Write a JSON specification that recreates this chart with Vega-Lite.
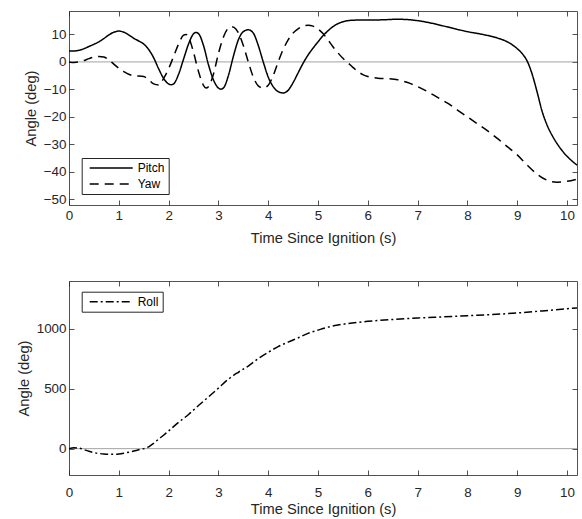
{
 "$schema": "https://vega.github.io/schema/vega-lite/v6.json",
 "background": "white",
 "padding": {"left": 16, "top": 10, "right": 5, "bottom": 0},
 "spacing": 34,
 "datasets": {
  "att": [
   {"t":0,"v":4.0,"series":"Pitch"},{"t":0.1,"v":4.0,"series":"Pitch"},{"t":0.2,"v":4.2,"series":"Pitch"},{"t":0.3,"v":4.8,"series":"Pitch"},{"t":0.4,"v":5.6,"series":"Pitch"},{"t":0.5,"v":6.4,"series":"Pitch"},{"t":0.6,"v":7.3,"series":"Pitch"},{"t":0.7,"v":8.5,"series":"Pitch"},{"t":0.8,"v":9.8,"series":"Pitch"},{"t":0.9,"v":10.8,"series":"Pitch"},{"t":1.0,"v":11.2,"series":"Pitch"},{"t":1.1,"v":10.8,"series":"Pitch"},{"t":1.2,"v":9.8,"series":"Pitch"},{"t":1.3,"v":8.6,"series":"Pitch"},{"t":1.4,"v":7.6,"series":"Pitch"},{"t":1.5,"v":6.5,"series":"Pitch"},{"t":1.6,"v":4.5,"series":"Pitch"},{"t":1.7,"v":1.5,"series":"Pitch"},{"t":1.8,"v":-2.5,"series":"Pitch"},{"t":1.9,"v":-6,"series":"Pitch"},{"t":2.0,"v":-8,"series":"Pitch"},{"t":2.05,"v":-8.3,"series":"Pitch"},{"t":2.1,"v":-8,"series":"Pitch"},{"t":2.2,"v":-4.5,"series":"Pitch"},{"t":2.3,"v":1,"series":"Pitch"},{"t":2.4,"v":6.5,"series":"Pitch"},{"t":2.5,"v":10.2,"series":"Pitch"},{"t":2.55,"v":10.7,"series":"Pitch"},{"t":2.6,"v":10.3,"series":"Pitch"},{"t":2.7,"v":6,"series":"Pitch"},{"t":2.8,"v":-1,"series":"Pitch"},{"t":2.9,"v":-6.5,"series":"Pitch"},{"t":3.0,"v":-9.5,"series":"Pitch"},{"t":3.05,"v":-9.9,"series":"Pitch"},{"t":3.1,"v":-9.5,"series":"Pitch"},{"t":3.2,"v":-5,"series":"Pitch"},{"t":3.3,"v":2,"series":"Pitch"},{"t":3.4,"v":8,"series":"Pitch"},{"t":3.5,"v":11,"series":"Pitch"},{"t":3.6,"v":11.7,"series":"Pitch"},{"t":3.7,"v":10.5,"series":"Pitch"},{"t":3.8,"v":6,"series":"Pitch"},{"t":3.9,"v":0,"series":"Pitch"},{"t":4.0,"v":-5.5,"series":"Pitch"},{"t":4.1,"v":-9,"series":"Pitch"},{"t":4.2,"v":-10.8,"series":"Pitch"},{"t":4.3,"v":-11.3,"series":"Pitch"},{"t":4.4,"v":-10.3,"series":"Pitch"},{"t":4.5,"v":-7.5,"series":"Pitch"},{"t":4.6,"v":-4,"series":"Pitch"},{"t":4.7,"v":-0.5,"series":"Pitch"},{"t":4.8,"v":2.5,"series":"Pitch"},{"t":4.9,"v":5,"series":"Pitch"},{"t":5.0,"v":7.3,"series":"Pitch"},{"t":5.1,"v":9.5,"series":"Pitch"},{"t":5.2,"v":11.3,"series":"Pitch"},{"t":5.3,"v":12.8,"series":"Pitch"},{"t":5.4,"v":13.9,"series":"Pitch"},{"t":5.5,"v":14.6,"series":"Pitch"},{"t":5.6,"v":15.0,"series":"Pitch"},{"t":5.8,"v":15.2,"series":"Pitch"},{"t":6.0,"v":15.2,"series":"Pitch"},{"t":6.3,"v":15.3,"series":"Pitch"},{"t":6.6,"v":15.5,"series":"Pitch"},{"t":7.0,"v":15.0,"series":"Pitch"},{"t":7.3,"v":14.0,"series":"Pitch"},{"t":7.6,"v":12.7,"series":"Pitch"},{"t":8.0,"v":11.0,"series":"Pitch"},{"t":8.3,"v":10.0,"series":"Pitch"},{"t":8.6,"v":8.7,"series":"Pitch"},{"t":8.8,"v":7.3,"series":"Pitch"},{"t":9.0,"v":4.8,"series":"Pitch"},{"t":9.1,"v":3,"series":"Pitch"},{"t":9.2,"v":0.3,"series":"Pitch"},{"t":9.3,"v":-4.5,"series":"Pitch"},{"t":9.4,"v":-11,"series":"Pitch"},{"t":9.5,"v":-18,"series":"Pitch"},{"t":9.6,"v":-23,"series":"Pitch"},{"t":9.7,"v":-26.7,"series":"Pitch"},{"t":9.8,"v":-29.7,"series":"Pitch"},{"t":9.9,"v":-32.2,"series":"Pitch"},{"t":10.0,"v":-34.3,"series":"Pitch"},{"t":10.1,"v":-36,"series":"Pitch"},{"t":10.2,"v":-37.5,"series":"Pitch"},
   {"t":0,"v":0,"series":"Yaw"},{"t":0.1,"v":-0.2,"series":"Yaw"},{"t":0.2,"v":0,"series":"Yaw"},{"t":0.3,"v":0.5,"series":"Yaw"},{"t":0.4,"v":1.2,"series":"Yaw"},{"t":0.5,"v":1.8,"series":"Yaw"},{"t":0.6,"v":2,"series":"Yaw"},{"t":0.7,"v":1.8,"series":"Yaw"},{"t":0.8,"v":0.8,"series":"Yaw"},{"t":0.9,"v":-0.8,"series":"Yaw"},{"t":1.0,"v":-2.3,"series":"Yaw"},{"t":1.1,"v":-3.5,"series":"Yaw"},{"t":1.2,"v":-4.5,"series":"Yaw"},{"t":1.3,"v":-5,"series":"Yaw"},{"t":1.5,"v":-5.3,"series":"Yaw"},{"t":1.6,"v":-6.5,"series":"Yaw"},{"t":1.7,"v":-8,"series":"Yaw"},{"t":1.8,"v":-8.4,"series":"Yaw"},{"t":1.85,"v":-7.5,"series":"Yaw"},{"t":1.9,"v":-6,"series":"Yaw"},{"t":2.0,"v":-2.5,"series":"Yaw"},{"t":2.1,"v":2,"series":"Yaw"},{"t":2.2,"v":6.5,"series":"Yaw"},{"t":2.3,"v":9.7,"series":"Yaw"},{"t":2.35,"v":10,"series":"Yaw"},{"t":2.4,"v":9,"series":"Yaw"},{"t":2.5,"v":3.5,"series":"Yaw"},{"t":2.6,"v":-3.5,"series":"Yaw"},{"t":2.7,"v":-8.5,"series":"Yaw"},{"t":2.75,"v":-9.5,"series":"Yaw"},{"t":2.8,"v":-9,"series":"Yaw"},{"t":2.9,"v":-4.5,"series":"Yaw"},{"t":3.0,"v":3,"series":"Yaw"},{"t":3.1,"v":9,"series":"Yaw"},{"t":3.2,"v":12.3,"series":"Yaw"},{"t":3.27,"v":12.8,"series":"Yaw"},{"t":3.35,"v":12,"series":"Yaw"},{"t":3.5,"v":6,"series":"Yaw"},{"t":3.6,"v":0,"series":"Yaw"},{"t":3.7,"v":-5.5,"series":"Yaw"},{"t":3.8,"v":-8.7,"series":"Yaw"},{"t":3.9,"v":-9.5,"series":"Yaw"},{"t":4.0,"v":-8.5,"series":"Yaw"},{"t":4.1,"v":-5,"series":"Yaw"},{"t":4.2,"v":0,"series":"Yaw"},{"t":4.3,"v":4.5,"series":"Yaw"},{"t":4.4,"v":8,"series":"Yaw"},{"t":4.5,"v":10.5,"series":"Yaw"},{"t":4.6,"v":12,"series":"Yaw"},{"t":4.7,"v":13,"series":"Yaw"},{"t":4.8,"v":13.3,"series":"Yaw"},{"t":4.9,"v":13,"series":"Yaw"},{"t":5.0,"v":12,"series":"Yaw"},{"t":5.1,"v":10.3,"series":"Yaw"},{"t":5.2,"v":8,"series":"Yaw"},{"t":5.3,"v":5.5,"series":"Yaw"},{"t":5.4,"v":3.3,"series":"Yaw"},{"t":5.5,"v":1.3,"series":"Yaw"},{"t":5.6,"v":-0.3,"series":"Yaw"},{"t":5.7,"v":-2,"series":"Yaw"},{"t":5.8,"v":-3.5,"series":"Yaw"},{"t":5.9,"v":-4.6,"series":"Yaw"},{"t":6.0,"v":-5.3,"series":"Yaw"},{"t":6.2,"v":-5.9,"series":"Yaw"},{"t":6.4,"v":-6.1,"series":"Yaw"},{"t":6.6,"v":-6.5,"series":"Yaw"},{"t":6.8,"v":-7.5,"series":"Yaw"},{"t":7.0,"v":-9,"series":"Yaw"},{"t":7.2,"v":-10.8,"series":"Yaw"},{"t":7.4,"v":-12.9,"series":"Yaw"},{"t":7.6,"v":-15,"series":"Yaw"},{"t":7.8,"v":-17.5,"series":"Yaw"},{"t":8.0,"v":-20,"series":"Yaw"},{"t":8.2,"v":-22.5,"series":"Yaw"},{"t":8.4,"v":-25,"series":"Yaw"},{"t":8.6,"v":-27.8,"series":"Yaw"},{"t":8.8,"v":-30.8,"series":"Yaw"},{"t":9.0,"v":-33.8,"series":"Yaw"},{"t":9.2,"v":-37.5,"series":"Yaw"},{"t":9.4,"v":-40.8,"series":"Yaw"},{"t":9.6,"v":-43,"series":"Yaw"},{"t":9.8,"v":-43.7,"series":"Yaw"},{"t":10.0,"v":-43.4,"series":"Yaw"},{"t":10.2,"v":-42.6,"series":"Yaw"}
  ],
  "roll": [
   {"t":0,"v":0,"series":"Roll"},{"t":0.1,"v":7,"series":"Roll"},{"t":0.2,"v":4,"series":"Roll"},{"t":0.3,"v":-8,"series":"Roll"},{"t":0.4,"v":-22,"series":"Roll"},{"t":0.5,"v":-33,"series":"Roll"},{"t":0.6,"v":-40,"series":"Roll"},{"t":0.7,"v":-45,"series":"Roll"},{"t":0.8,"v":-47,"series":"Roll"},{"t":0.9,"v":-47,"series":"Roll"},{"t":1.0,"v":-44,"series":"Roll"},{"t":1.1,"v":-38,"series":"Roll"},{"t":1.2,"v":-30,"series":"Roll"},{"t":1.3,"v":-20,"series":"Roll"},{"t":1.4,"v":-10,"series":"Roll"},{"t":1.5,"v":0,"series":"Roll"},{"t":1.6,"v":15,"series":"Roll"},{"t":1.7,"v":45,"series":"Roll"},{"t":1.8,"v":80,"series":"Roll"},{"t":1.9,"v":112,"series":"Roll"},{"t":2.0,"v":148,"series":"Roll"},{"t":2.2,"v":220,"series":"Roll"},{"t":2.4,"v":285,"series":"Roll"},{"t":2.6,"v":360,"series":"Roll"},{"t":2.8,"v":432,"series":"Roll"},{"t":3.0,"v":505,"series":"Roll"},{"t":3.2,"v":580,"series":"Roll"},{"t":3.4,"v":638,"series":"Roll"},{"t":3.6,"v":690,"series":"Roll"},{"t":3.8,"v":752,"series":"Roll"},{"t":4.0,"v":805,"series":"Roll"},{"t":4.2,"v":852,"series":"Roll"},{"t":4.4,"v":890,"series":"Roll"},{"t":4.6,"v":925,"series":"Roll"},{"t":4.8,"v":963,"series":"Roll"},{"t":5.0,"v":990,"series":"Roll"},{"t":5.2,"v":1015,"series":"Roll"},{"t":5.4,"v":1032,"series":"Roll"},{"t":5.6,"v":1045,"series":"Roll"},{"t":5.8,"v":1055,"series":"Roll"},{"t":6.0,"v":1063,"series":"Roll"},{"t":6.5,"v":1079,"series":"Roll"},{"t":7.0,"v":1091,"series":"Roll"},{"t":7.5,"v":1100,"series":"Roll"},{"t":8.0,"v":1110,"series":"Roll"},{"t":8.5,"v":1120,"series":"Roll"},{"t":9.0,"v":1133,"series":"Roll"},{"t":9.5,"v":1150,"series":"Roll"},{"t":10.0,"v":1168,"series":"Roll"},{"t":10.2,"v":1175,"series":"Roll"}
  ],
  "zero": [{"z": 0}]
 },
 "config": {
  "view": {"stroke": null},
  "font": "Liberation Sans",
  "axis": {
   "grid": false, "domainColor": "#262626", "domainWidth": 0.8,
   "tickColor": "#262626", "tickWidth": 0.8, "tickSize": -5,
   "labelPadding": 8, "labelFont": "Liberation Sans", "labelFontSize": 13.4, "labelColor": "#262626",
   "labelFlush": false, "labelOverlap": false,
   "titleFont": "Liberation Sans", "titleFontSize": 14.7, "titleFontWeight": "normal", "titleColor": "#262626"
  },
  "axisX": {"titlePadding": 9},
  "axisY": {"titlePadding": 5},
  "legend": {
   "orient": "none", "strokeColor": "#262626", "fillColor": "white", "padding": 4,
   "symbolType": "M-2,0H41", "symbolSize": 4, "symbolStrokeWidth": 1.5, "symbolStrokeColor": "black",
   "labelFont": "Liberation Sans", "labelFontSize": 12, "labelColor": "black", "labelOffset": 40, "rowPadding": 4
  }
 },
 "resolve": {"scale": {"y": "independent", "strokeDash": "independent"}, "legend": {"strokeDash": "independent"}},
 "vconcat": [
  {
   "width": 508, "height": 194,
   "layer": [
    {
     "data": {"name": "zero"},
     "mark": {"type": "rule", "color": "#8c8c8c", "strokeWidth": 0.8},
     "encoding": {
      "y": {"field": "z", "type": "quantitative", "scale": {"domain": [-52, 18.5], "nice": false, "zero": false},
            "axis": {"orient": "right", "labels": false, "title": null, "values": [-50, -40, -30, -20, -10, 0, 10]}}
     }
    },
    {
     "data": {"name": "att"},
     "mark": {"type": "line", "color": "black", "strokeWidth": 1.5, "interpolate": "monotone"},
     "encoding": {
      "x": {"field": "t", "type": "quantitative", "scale": {"domain": [0, 10.2], "nice": false},
            "axis": {"orient": "bottom", "title": "Time Since Ignition (s)", "values": [0,1,2,3,4,5,6,7,8,9,10]}},
      "y": {"field": "v", "type": "quantitative", "scale": {"domain": [-52, 18.5], "nice": false, "zero": false},
            "axis": {"orient": "left", "title": "Angle (deg)", "values": [-50, -40, -30, -20, -10, 0, 10]}},
      "strokeDash": {"field": "series", "type": "nominal",
            "scale": {"domain": ["Pitch", "Yaw"], "range": [[1, 0], [9, 6]]},
            "legend": {"title": null, "legendX": 12.7, "legendY": 147}}
     }
    },
    {
     "data": {"name": "att"},
     "mark": {"type": "line", "opacity": 0},
     "encoding": {
      "x": {"field": "t", "type": "quantitative", "axis": {"orient": "top", "labels": false, "title": null, "values": [0,1,2,3,4,5,6,7,8,9,10]}},
      "y": {"field": "v", "type": "quantitative", "axis": null},
      "detail": {"field": "series"}
     }
    }
   ]
  },
  {
   "width": 508, "height": 194,
   "layer": [
    {
     "data": {"name": "zero"},
     "mark": {"type": "rule", "color": "#8c8c8c", "strokeWidth": 0.8},
     "encoding": {
      "y": {"field": "z", "type": "quantitative", "scale": {"domain": [-220, 1400], "nice": false, "zero": false},
            "axis": {"orient": "right", "labels": false, "title": null, "values": [0, 500, 1000]}}
     }
    },
    {
     "data": {"name": "roll"},
     "mark": {"type": "line", "color": "black", "strokeWidth": 1.5, "interpolate": "monotone"},
     "encoding": {
      "x": {"field": "t", "type": "quantitative", "scale": {"domain": [0, 10.2], "nice": false},
            "axis": {"orient": "bottom", "title": "Time Since Ignition (s)", "values": [0,1,2,3,4,5,6,7,8,9,10], "labelPadding": 15, "titlePadding": 3}},
      "y": {"field": "v", "type": "quantitative", "scale": {"domain": [-220, 1400], "nice": false, "zero": false},
            "axis": {"orient": "left", "title": "Angle (deg)", "values": [0, 500, 1000], "format": "d"}},
      "strokeDash": {"field": "series", "type": "nominal",
            "scale": {"domain": ["Roll"], "range": [[8, 3, 2, 3]]},
            "legend": {"title": null, "legendX": 12.7, "legendY": 10.7}}
     }
    },
    {
     "data": {"name": "roll"},
     "mark": {"type": "line", "opacity": 0},
     "encoding": {
      "x": {"field": "t", "type": "quantitative", "axis": {"orient": "top", "labels": false, "title": null, "values": [0,1,2,3,4,5,6,7,8,9,10]}},
      "y": {"field": "v", "type": "quantitative", "axis": null}
     }
    }
   ]
  }
 ]
}
